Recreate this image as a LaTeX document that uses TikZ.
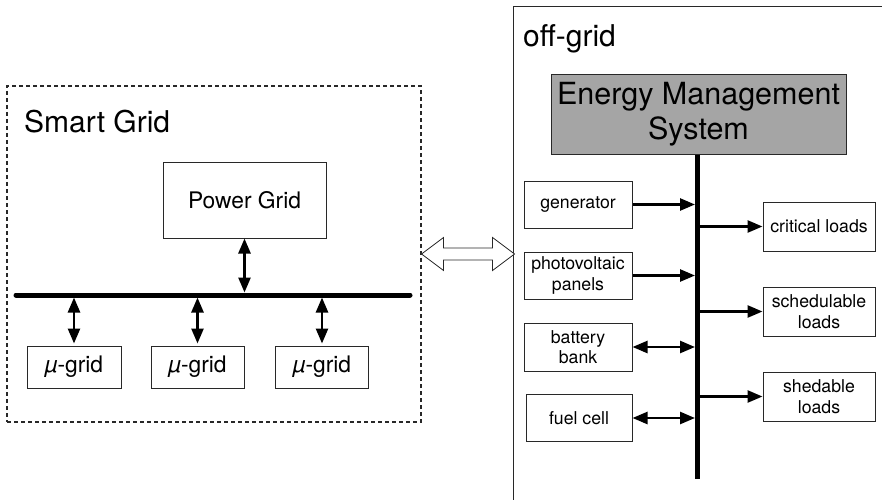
\documentclass[tikz,border=0pt]{standalone}
\usepackage{fontspec}
\setmainfont{TeX Gyre Heros}
\usetikzlibrary{arrows.meta}
\definecolor{emsgray}{RGB}{165,165,165}
\definecolor{linegray}{RGB}{40,40,40}
\begin{document}
\begin{tikzpicture}[x=1pt,y=-1pt,
  box/.style={draw=linegray, line width=1pt, inner sep=0pt, align=center,
    font=\fontsize{17.7}{20.5}\selectfont},
  bigbox/.style={draw=linegray, line width=1pt, inner sep=0pt, align=center,
    font=\fontsize{22.8}{26}\selectfont},
  title/.style={inner sep=0pt, anchor=base west, font=\fontsize{30}{36}\selectfont},
  arr/.style={line width=2.5pt, -{Triangle[length=15pt,width=12pt]}},
  darr/.style={line width=2.5pt, {Triangle[length=15pt,width=12pt]}-{Triangle[length=15pt,width=12pt]}},
  busline/.style={line width=5pt},
  hollow/.style={draw=linegray, line width=0.8pt, fill=white, line join=miter}
]
\useasboundingbox (0,0) rectangle (882,500);

% ---------------- Smart Grid ----------------
\node[draw=linegray, line width=1.1pt, dash pattern=on 4pt off 3pt,
      minimum width=414pt, minimum height=336pt, inner sep=0pt] (sg) at (214,254) {};
\node[title] (sgt) at (24,132) {Smart Grid};

\node[bigbox, minimum width=163pt, minimum height=76pt] (pg) at (244.5,200) {Power Grid};
\node[bigbox, minimum width=94pt, minimum height=42pt] (mg1) at (74,367) {{\itshape µ}-grid};
\node[bigbox, minimum width=93pt, minimum height=42pt] (mg2) at (197.5,367) {{\itshape µ}-grid};
\node[bigbox, minimum width=93pt, minimum height=42pt] (mg3) at (322,367) {{\itshape µ}-grid};

\coordinate (bw) at (16,295);
\coordinate (be) at (410,295);
\coordinate (bustop) at (0,292.5);
\coordinate (busbot) at (0,297.5);
\draw[busline, line cap=round] (bw) -- (be);

\draw[darr] (pg.south) -- (pg.south |- bustop);
\draw[darr, shorten >=2pt] (mg1.north |- busbot) -- (mg1.north);
\draw[darr, shorten >=2pt] (mg2.north |- busbot) -- (mg2.north);
\draw[darr, shorten >=2pt] (mg3.north |- busbot) -- (mg3.north);

% ---------------- off-grid ----------------
\coordinate (ogtr) at (882,7);
\coordinate (ogtl) at (513,7);
\coordinate (ogbl) at (513,500);
\draw[linegray, line width=1pt] (ogtr) -- (ogtl) -- (ogbl);
\node[title] (ogt) at (523,47) {off-grid};

% hollow double arrow between the two areas
\draw[hollow] (sg.east) -- ++(22,-16.5) -- ++(0,10.5) -- ++(49,0) -- ++(0,-10.5)
  -- ++(22,16.5) -- ++(-22,16.5) -- ++(0,-10.5) -- ++(-49,0) -- ++(0,10.5) -- cycle;

\node[draw=linegray, line width=1pt, fill=emsgray, inner sep=0pt, align=center,
      minimum width=295pt, minimum height=79pt,
      font=\fontsize{30.5}{35}\selectfont] (ems) at (698.5,114.5) {Energy Management\\System};

\coordinate (rbb) at (697.5,479);
\coordinate (rl) at (695,0);
\coordinate (rr) at (700,0);
\draw[busline] (ems.south -| rbb) -- (rbb);

\node[box, minimum width=108pt, minimum height=47pt] (gen) at (578,204.5) {generator};
\node[box, minimum width=108pt, minimum height=47pt] (pv) at (578,275.5) {photovoltaic\\panels};
\node[box, minimum width=108pt, minimum height=48pt] (bat) at (578,347) {battery\\bank};
\node[box, minimum width=106pt, minimum height=47pt] (fc) at (579,418) {fuel cell};

\node[box, minimum width=112pt, minimum height=49pt] (crit) at (819,226.5) {critical loads};
\node[box, minimum width=112pt, minimum height=49pt] (sched) at (819,311.5) {schedulable\\loads};
\node[box, minimum width=112pt, minimum height=49pt] (shed) at (819,396.5) {shedable\\loads};

\draw[arr] (gen.east) -- (gen.east -| rl);
\draw[arr] (pv.east) -- (pv.east -| rl);
\draw[darr] (bat.east) -- (bat.east -| rl);
\draw[darr] (fc.east) -- (fc.east -| rl);

\draw[arr] (rr |- crit.west) -- (crit.west);
\draw[arr] (rr |- sched.west) -- (sched.west);
\draw[arr] (rr |- shed.west) -- (shed.west);
\end{tikzpicture}
\end{document}
